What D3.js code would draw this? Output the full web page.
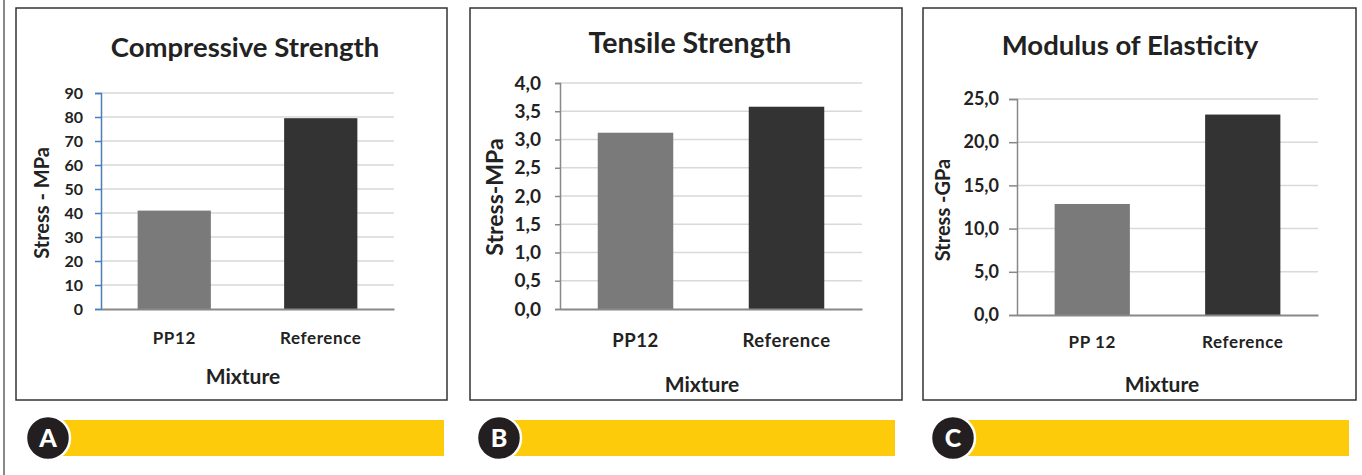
<!DOCTYPE html>
<html>
<head>
<meta charset="utf-8">
<script src="https://cdn.jsdelivr.net/npm/d3@7"></script>
<style>
  body { margin: 0; background: #fff; }
  text { font-family: Lato, "Open Sans", sans-serif; fill: #222; }
</style>
</head>
<body>
<div id="chart"></div>
<script>
// Data
const categoriesA = ["PP12", "Reference"];
const categoriesB = ["PP12", "Reference"];
const categoriesC = ["PP 12", "Reference"];
const compressiveValues = [41, 79.5];   // MPa
const tensileValues = [3.12, 3.58];     // MPa
const modulusValues = [12.85, 23.2];    // GPa
const compressiveTicks = [0, 10, 20, 30, 40, 50, 60, 70, 80, 90];
const tensileTicks = [0, 0.5, 1, 1.5, 2, 2.5, 3, 3.5, 4];
const modulusTicks = [0, 5, 10, 15, 20, 25];
const barColors = ["#7a7a7a", "#333333"];

const svg = d3.select("#chart")
    .append("svg")
    .attr("width", 1362)
    .attr("height", 475);

// gray rule on the left edge
svg.append("line")
    .attr("x1", 4).attr("x2", 4)
    .attr("y1", 0).attr("y2", 475)
    .attr("stroke", "#888")
    .attr("stroke-width", 2);

const fmtComma = d => d.toFixed(1).replace(".", ",");

const panels = [
    {
        frame: {x: 16, y: 8, w: 431, h: 392},
        plot: {left: 101, right: 394, top: 93, bottom: 309},
        title: "Compressive Strength", titleX: 245, titleY: 57, titleSize: 27.5,
        categories: categoriesA, values: compressiveValues, ticks: compressiveTicks,
        fmt: d => d, tickSize: 16, tickLen: 6, tickPad: 12, catSize: 17, catY: 344,
        yLabel: "Stress - MPa", yLabelX: 49, yLabelY: 203, yLabelSize: 20,
        xLabel: "Mixture", xLabelX: 243, xLabelY: 384,
        axisColor: "#4a7ebb",
        badge: {cx: 48, cy: 438, letter: "A", end: 444}
    },
    {
        frame: {x: 470, y: 8, w: 432, h: 392},
        plot: {left: 560, right: 862, top: 83, bottom: 309},
        title: "Tensile Strength", titleX: 690, titleY: 53, titleSize: 28.5,
        categories: categoriesB, values: tensileValues, ticks: tensileTicks,
        fmt: fmtComma, tickSize: 19, tickLen: 5, tickPad: 14, catSize: 18.5, catY: 347,
        yLabel: "Stress-MPa", yLabelX: 503, yLabelY: 197, yLabelSize: 23,
        xLabel: "Mixture", xLabelX: 702, xLabelY: 392,
        axisColor: "#888",
        badge: {cx: 499, cy: 438, letter: "B", end: 895}
    },
    {
        frame: {x: 923, y: 8, w: 433, h: 392},
        plot: {left: 1017, right: 1318, top: 99, bottom: 315},
        title: "Modulus of Elasticity", titleX: 1130, titleY: 55, titleSize: 27.5,
        categories: categoriesC, values: modulusValues, ticks: modulusTicks,
        fmt: fmtComma, tickSize: 18, tickLen: 8, tickPad: 10, catSize: 17, catY: 348,
        yLabel: "Stress -GPa", yLabelX: 950, yLabelY: 210, yLabelSize: 20,
        xLabel: "Mixture", xLabelX: 1162, xLabelY: 392,
        axisColor: "#888",
        badge: {cx: 953, cy: 438, letter: "C", end: 1349}
    }
];

panels.forEach(drawPanel);

function drawPanel(p) {
    const g = svg.append("g");

    // frame
    g.append("rect")
        .attr("x", p.frame.x).attr("y", p.frame.y)
        .attr("width", p.frame.w).attr("height", p.frame.h)
        .attr("fill", "#fff")
        .attr("stroke", "#333")
        .attr("stroke-width", 1.5);

    const x = d3.scaleBand()
        .domain(p.categories)
        .range([p.plot.left, p.plot.right])
        .paddingInner(0.5)
        .paddingOuter(0.25);

    const y = d3.scaleLinear()
        .domain([0, d3.max(p.ticks)])
        .range([p.plot.bottom, p.plot.top]);

    // gridlines
    g.append("g")
        .selectAll("line")
        .data(p.ticks.slice(1))
        .enter()
        .append("line")
        .attr("x1", p.plot.left).attr("x2", p.plot.right)
        .attr("y1", d => y(d)).attr("y2", d => y(d))
        .attr("stroke", "#d9d9d9")
        .attr("stroke-width", 1.5);

    // bars
    g.append("g")
        .selectAll("rect")
        .data(p.values)
        .enter()
        .append("rect")
        .attr("x", (d, i) => x(p.categories[i]))
        .attr("width", x.bandwidth())
        .attr("y", d => y(d))
        .attr("height", d => y(0) - y(d))
        .attr("fill", (d, i) => barColors[i]);

    // y axis
    const yAxis = g.append("g")
        .attr("transform", `translate(${p.plot.left},0)`)
        .call(d3.axisLeft(y).tickValues(p.ticks).tickFormat(p.fmt).tickSize(p.tickLen).tickPadding(p.tickPad));
    yAxis.select(".domain").attr("stroke", p.axisColor).attr("stroke-width", 1.5);
    yAxis.selectAll(".tick line").attr("stroke", p.axisColor).attr("stroke-width", 1.5);
    yAxis.selectAll(".tick text")
        .style("font-size", p.tickSize + "px")
        .style("font-weight", "700")
        .attr("fill", "#222");

    // x axis baseline
    const xAxis = g.append("g")
        .attr("transform", `translate(0,${p.plot.bottom})`)
        .call(d3.axisBottom(x).tickSize(0).tickPadding(0));
    xAxis.select(".domain").attr("stroke", "#888").attr("stroke-width", 2);
    xAxis.selectAll(".tick text")
        .attr("y", p.catY - p.plot.bottom)
        .attr("dy", 0)
        .style("font-size", p.catSize + "px")
        .style("font-weight", "700")
        .style("letter-spacing", "0.6px")
        .attr("fill", "#222");

    // title
    g.append("text")
        .attr("x", p.titleX).attr("y", p.titleY)
        .attr("text-anchor", "middle")
        .style("font-size", p.titleSize + "px")
        .style("font-weight", "700")
        .text(p.title);

    // axis titles
    g.append("text")
        .attr("transform", `translate(${p.yLabelX},${p.yLabelY}) rotate(-90)`)
        .attr("text-anchor", "middle")
        .style("font-size", p.yLabelSize + "px")
        .style("font-weight", "700")
        .text(p.yLabel);

    g.append("text")
        .attr("x", p.xLabelX).attr("y", p.xLabelY)
        .attr("text-anchor", "middle")
        .style("font-size", "21px")
        .style("font-weight", "700")
        .text(p.xLabel);

    // badge and yellow band
    const b = p.badge;
    g.append("rect")
        .attr("x", b.cx).attr("y", b.cy - 18)
        .attr("width", b.end - b.cx).attr("height", 36)
        .attr("fill", "#fecb0a");
    g.append("circle")
        .attr("cx", b.cx).attr("cy", b.cy)
        .attr("r", 22)
        .attr("fill", "#231f20")
        .attr("stroke", "#fff")
        .attr("stroke-width", 2.5);
    g.append("text")
        .attr("x", b.cx).attr("y", b.cy + 9)
        .attr("text-anchor", "middle")
        .style("font-size", "25px")
        .style("font-weight", "900")
        .style("fill", "#fff")
        .text(b.letter);
}
</script>
</body>
</html>
